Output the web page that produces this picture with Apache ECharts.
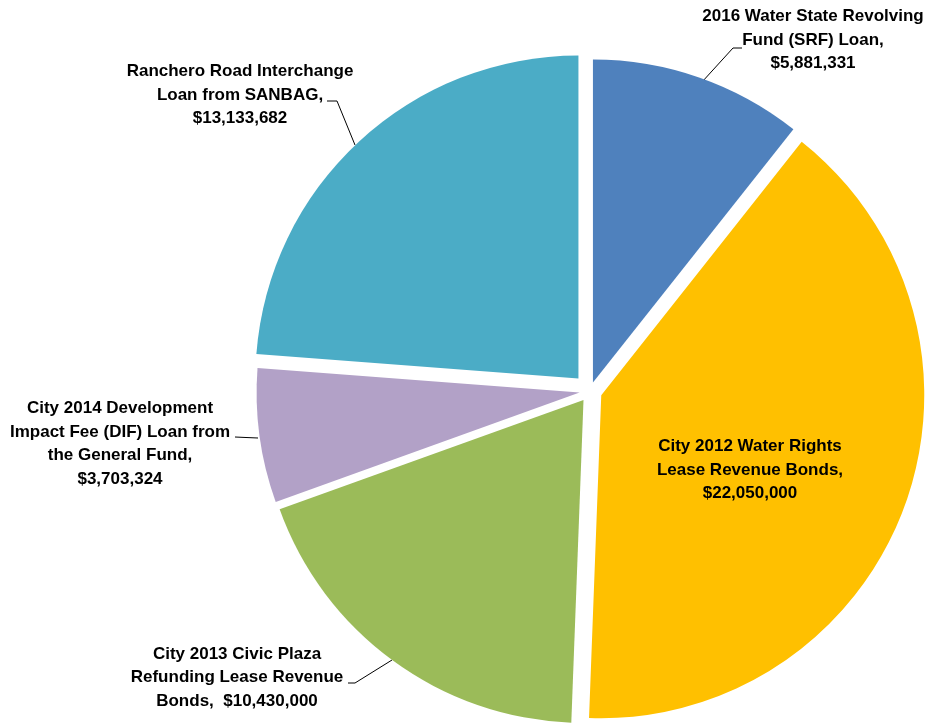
<!DOCTYPE html>
<html>
<head>
<meta charset="utf-8">
<script src="https://cdn.jsdelivr.net/npm/echarts@6/dist/echarts.min.js"></script>
<style>
  html, body { margin: 0; padding: 0; background: #fff; }
  #chart { width: 929px; height: 723px; }
</style>
</head>
<body>
<div id="chart"></div>
<script>
// ---- data ----
const categories = [
  '2016 Water State Revolving\nFund (SRF) Loan',
  'City 2012 Water Rights\nLease Revenue Bonds',
  'City 2013 Civic Plaza\nRefunding Lease Revenue\nBonds',
  'City 2014 Development\nImpact Fee (DIF) Loan from\nthe General Fund',
  'Ranchero Road Interchange\nLoan from SANBAG'
];
const values = [5881331, 22050000, 10430000, 3703324, 13133682];
const valueSeparators = ['\n', '\n', '  ', '\n', '\n'];

// ---- styling / layout ----
const colors = ['#4F81BD', '#FFC000', '#9BBB59', '#B2A1C7', '#4BACC6'];
const explodeOffsets = [9, 12, 11, 10.5, 17];
const labelLayouts = [
  { x: 813, y: 40, line: [[702, 82], [733, 48], [742, 48]] },
  { x: 750, y: 470, line: null },
  { x: 237, y: 677.5, line: [[392, 660], [355, 683], [348, 683]] },
  { x: 120, y: 444, line: [[258, 438], [246, 437.5], [235, 437]] },
  { x: 240, y: 95, line: [[355, 145], [337, 101], [327, 101]] }
];
const pieCenter = [590, 391];
const pieRadius = 323;
const TRANSPARENT = 'rgba(0,0,0,0)';

const chart = echarts.init(document.getElementById('chart'), null, { renderer: 'canvas' });

// one pie series per slice so that each slice can carry its own explosion offset
const sliceSeries = categories.map((_, i) => ({
  type: 'pie',
  center: pieCenter,
  radius: [0, pieRadius],
  startAngle: 90,
  clockwise: true,
  selectedMode: 'multiple',
  selectedOffset: explodeOffsets[i],
  silent: true,
  emphasis: { disabled: true },
  label: { show: false },
  labelLine: { show: false },
  data: categories.map((name, j) => ({
    name: name,
    value: values[j],
    selected: j === i,
    itemStyle: { color: j === i ? colors[j] : TRANSPARENT, borderWidth: 0 }
  }))
}));

const labelSeries = {
  type: 'pie',
  center: pieCenter,
  radius: [0, pieRadius],
  startAngle: 90,
  clockwise: true,
  selectedMode: false,
  silent: true,
  avoidLabelOverlap: false,
  emphasis: { disabled: true },
  itemStyle: { color: TRANSPARENT, borderWidth: 0 },
  data: categories.map((name, i) => ({
    name: name,
    value: values[i],
    labelLine: { show: labelLayouts[i].line !== null }
  })),
  label: {
    show: true,
    position: 'outside',
    color: '#000',
    opacity: 1,
    fontFamily: '"Liberation Sans", Arial, sans-serif',
    fontWeight: 'bold',
    fontSize: 17,
    lineHeight: 23.5,
    align: 'center',
    formatter: function (p) {
      return categories[p.dataIndex] + ',' + valueSeparators[p.dataIndex] +
        '$' + values[p.dataIndex].toLocaleString('en-US');
    }
  },
  labelLine: {
    show: true,
    smooth: false,
    lineStyle: { color: '#000', width: 1, opacity: 1 }
  },
  labelLayout: function (params) {
    const L = labelLayouts[params.dataIndex];
    const out = { x: L.x, y: L.y, align: 'center', verticalAlign: 'middle' };
    if (L.line) out.labelLinePoints = L.line;
    return out;
  }
};

chart.setOption({
  animation: false,
  backgroundColor: '#ffffff',
  series: sliceSeries.concat([labelSeries])
});
</script>
</body>
</html>
